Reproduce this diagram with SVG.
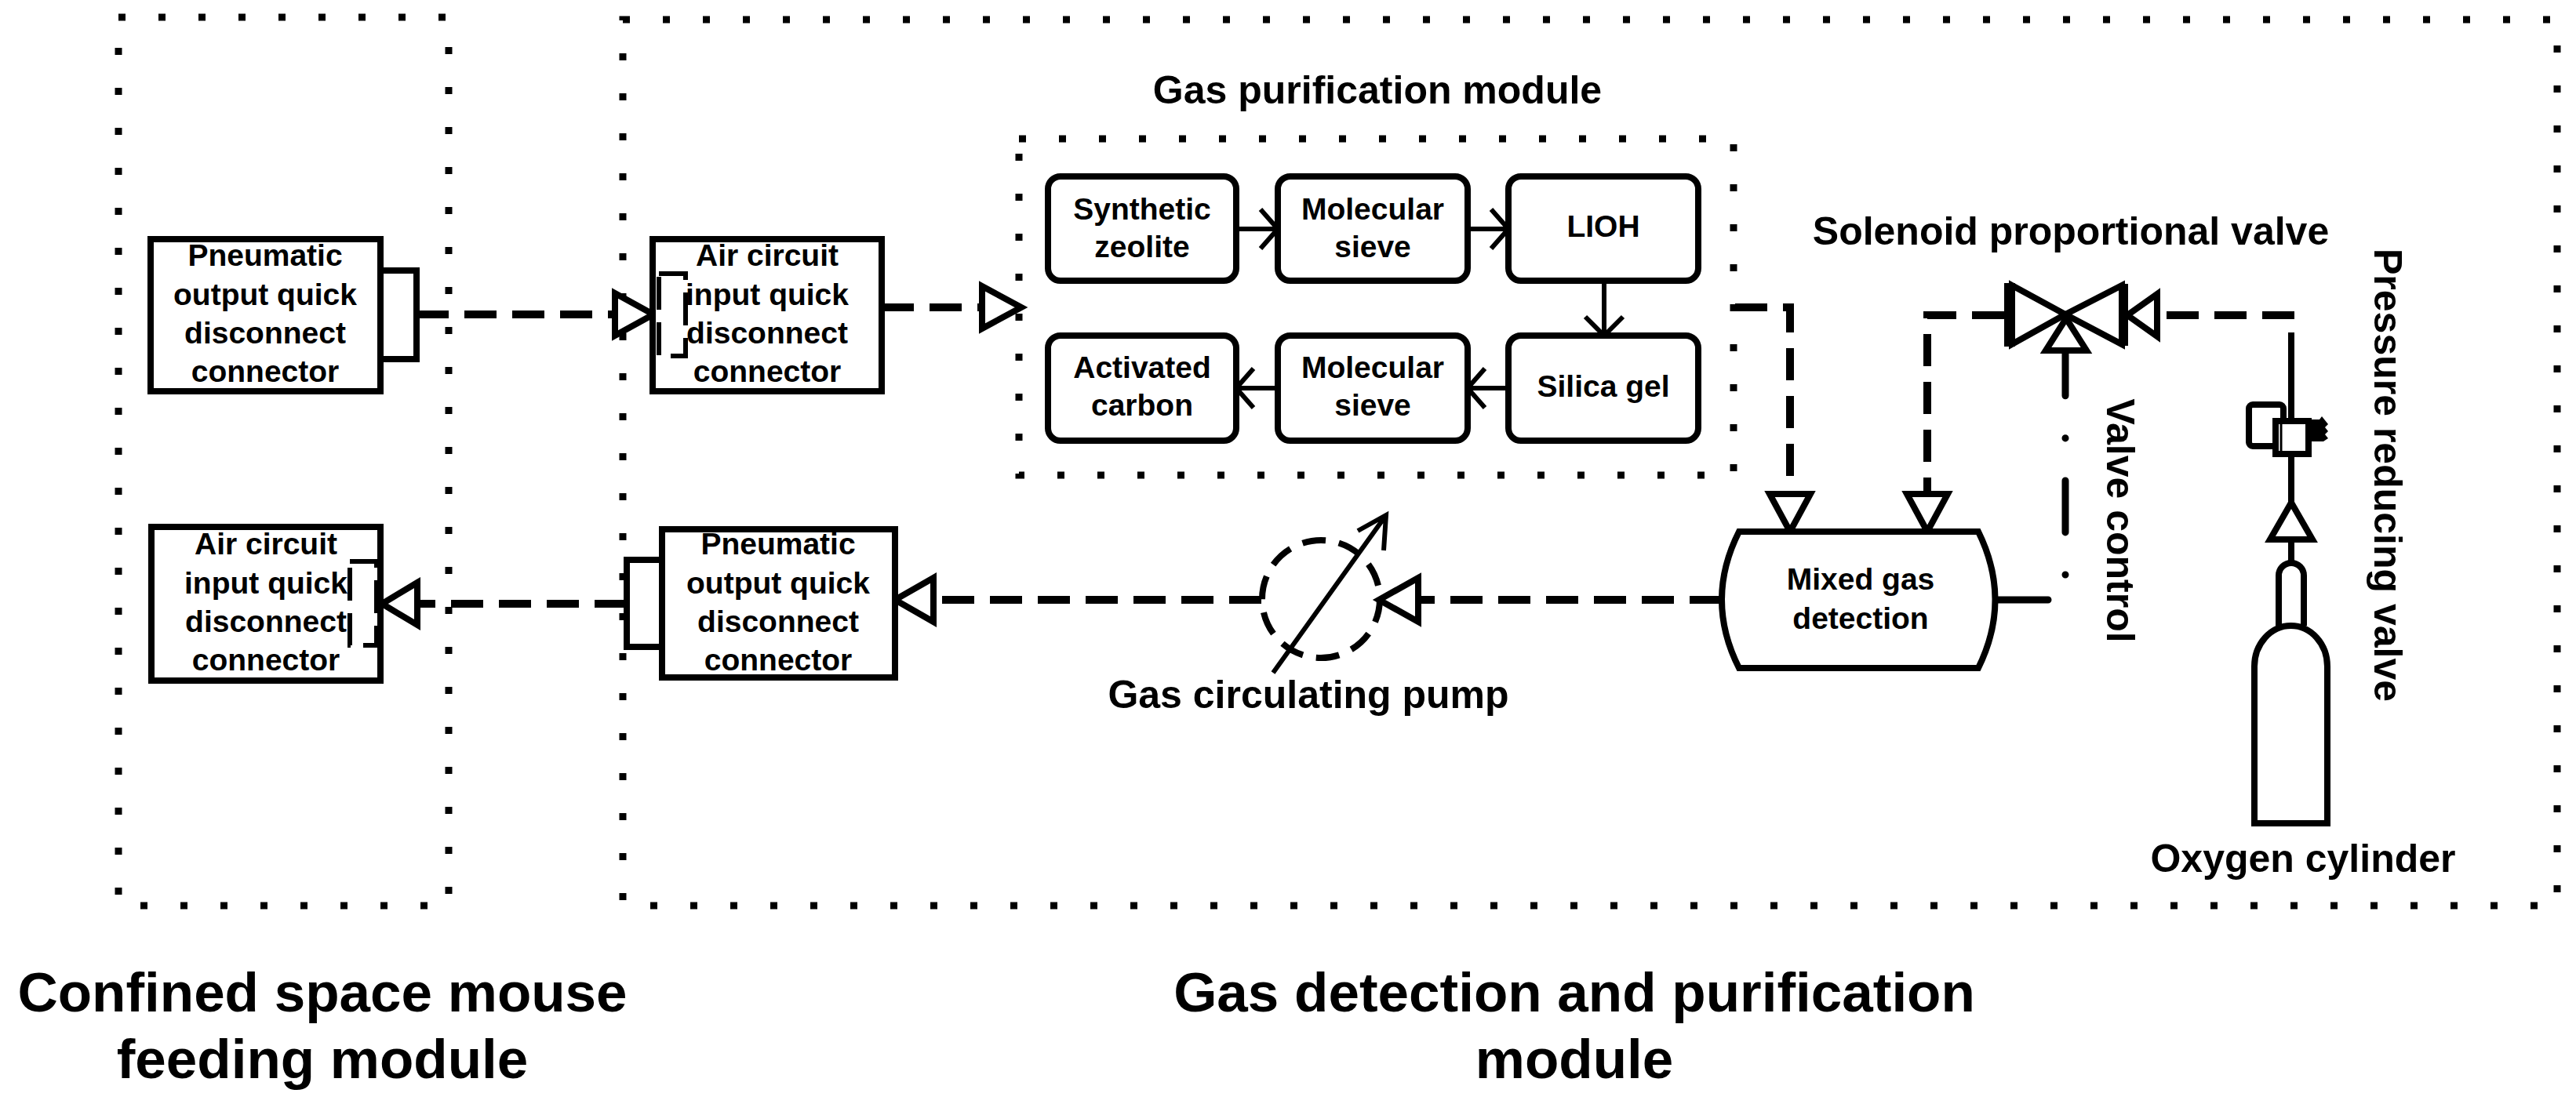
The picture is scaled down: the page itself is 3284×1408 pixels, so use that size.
<svg xmlns="http://www.w3.org/2000/svg" width="3284" height="1408" viewBox="0 0 3284 1408">
<style>
.dot{fill:none;stroke:#000;stroke-width:9;stroke-dasharray:9 42}
.box{fill:#fff;stroke:#000;stroke-width:8}
.ln{fill:none;stroke:#000;stroke-width:8}
.thin{fill:none;stroke:#000;stroke-width:6}
.dash{fill:none;stroke:#000;stroke-width:10;stroke-dasharray:41 20}
.sock{fill:none;stroke:#000;stroke-width:6;stroke-dasharray:42 16}
.tri{fill:#fff;stroke:#000;stroke-width:8;stroke-linejoin:miter}
.ctl{fill:none;stroke:#000;stroke-width:9;stroke-linecap:round;stroke-dasharray:66 54 0.1 54}
.t{font-family:"Liberation Sans",Arial,Helvetica,sans-serif;font-weight:bold;text-anchor:middle;fill:#000}
.bt{font-size:39px}
.lt{font-size:50px}
.ht{font-size:71px}
</style>
<rect width="3284" height="1408" fill="#fff"/>

<g id="frames">
<rect class="dot" x="151" y="22" width="421" height="1133"/>
<rect class="dot" x="794" y="25" width="2466" height="1130"/>
<rect class="dot" x="1299" y="177" width="911" height="429"/>
</g>

<g id="connectors">
<path class="dash" d="M531 401H784"/>
<polygon class="tri" points="784,374 833,401 784,428"/>
<path class="dash" d="M1124 392H1252"/>
<polygon class="tri" points="1252,365 1302,392 1252,419"/>
<path class="dash" d="M2212 392H2282V630"/>
<polygon class="tri" points="2256,630 2308,630 2282,678"/>
<path class="dash" d="M2555 402H2457V630"/>
<polygon class="tri" points="2431,630 2483,630 2457,678"/>
<path class="dash" d="M2925 402H2750"/>
<polygon class="tri" points="2750,375 2712,402 2750,429"/>
<path class="dash" d="M2195 765H1808"/>
<polygon class="tri" points="1808,737 1758,765 1808,793"/>
<path class="dash" d="M1608 765H1190"/>
<polygon class="tri" points="1190,737 1141,765 1190,793"/>
<path class="dash" d="M799 770H532"/>
<polygon class="tri" points="532,743 487,770 532,797"/>
<path class="ctl" d="M2545 765H2633V446"/>
<path class="ln" d="M2921 424V533M2921 583V641M2921 688V718"/>
<polygon class="tri" points="2894,688 2948,688 2921,641"/>
<path class="thin" d="M1576 292H1627M1607 267L1629 292L1607 317"/>
<path class="thin" d="M1871 292H1921M1901 267L1923 292L1901 317"/>
<path class="thin" d="M2045 358V426M2021 404L2045 428L2069 404"/>
<path class="thin" d="M1923 495H1873M1893 470L1871 495L1893 520"/>
<path class="thin" d="M1629 495H1578M1598 470L1576 495L1598 520"/>
</g>

<g id="pneumatic-out-1">
<rect class="box" x="485" y="345" width="46" height="113"/>
<rect class="box" x="192" y="305" width="293" height="194"/>
<text class="t bt" x="338" y="339">Pneumatic</text>
<text class="t bt" x="338" y="389">output quick</text>
<text class="t bt" x="338" y="438">disconnect</text>
<text class="t bt" x="338" y="487">connector</text>
</g>

<g id="air-in-1">
<rect class="box" x="832" y="305" width="292" height="194"/>
<rect class="sock" x="840" y="349" width="34" height="105"/>
<text class="t bt" x="978" y="339">Air circuit</text>
<text class="t bt" x="978" y="389">input quick</text>
<text class="t bt" x="978" y="438">disconnect</text>
<text class="t bt" x="978" y="487">connector</text>
</g>

<g id="air-in-2">
<rect class="box" x="193" y="672" width="292" height="196"/>
<text class="t bt" x="339" y="707">Air circuit</text>
<text class="t bt" x="339" y="757">input quick</text>
<text class="t bt" x="339" y="806">disconnect</text>
<text class="t bt" x="339" y="855">connector</text>
<rect class="sock" x="446" y="716" width="34" height="107"/>
</g>

<g id="pneumatic-out-2">
<rect class="box" x="799" y="714" width="45" height="111"/>
<rect class="box" x="844" y="675" width="297" height="189"/>
<text class="t bt" x="992" y="707">Pneumatic</text>
<text class="t bt" x="992" y="757">output quick</text>
<text class="t bt" x="992" y="806">disconnect</text>
<text class="t bt" x="992" y="855">connector</text>
</g>

<g id="purification">
<text class="t lt" x="1756" y="132">Gas purification module</text>
<g id="synthetic-zeolite">
<rect class="box" x="1336" y="225" width="240" height="133" rx="16"/>
<text class="t bt" x="1456" y="280">Synthetic</text>
<text class="t bt" x="1456" y="328">zeolite</text>
</g>
<g id="molecular-sieve-1">
<rect class="box" x="1629" y="225" width="242" height="133" rx="16"/>
<text class="t bt" x="1750" y="280">Molecular</text>
<text class="t bt" x="1750" y="328">sieve</text>
</g>
<g id="lioh">
<rect class="box" x="1923" y="225" width="242" height="133" rx="16"/>
<text class="t bt" x="2044" y="302">LIOH</text>
</g>
<g id="activated-carbon">
<rect class="box" x="1336" y="428" width="240" height="134" rx="16"/>
<text class="t bt" x="1456" y="482">Activated</text>
<text class="t bt" x="1456" y="530">carbon</text>
</g>
<g id="molecular-sieve-2">
<rect class="box" x="1629" y="428" width="242" height="134" rx="16"/>
<text class="t bt" x="1750" y="482">Molecular</text>
<text class="t bt" x="1750" y="530">sieve</text>
</g>
<g id="silica-gel">
<rect class="box" x="1923" y="428" width="242" height="134" rx="16"/>
<text class="t bt" x="2044" y="506">Silica gel</text>
</g>
</g>

<g id="mixed-gas-detection">
<path class="box" d="M2217 678H2522Q2565 765 2522 852H2217Q2173 765 2217 678Z"/>
<text class="t bt" x="2372" y="752">Mixed gas</text>
<text class="t bt" x="2372" y="802">detection</text>
</g>

<g id="gas-circulating-pump">
<circle cx="1684" cy="764" r="75" fill="none" stroke="#000" stroke-width="8" stroke-dasharray="30 17"/>
<path class="thin" d="M1623 858L1767 657M1731 677L1767 657L1764 702"/>
<text class="t lt" x="1668" y="903">Gas circulating pump</text>
</g>

<g id="solenoid-valve">
<text class="t lt" x="2640" y="312">Solenoid proportional valve</text>
<polygon class="tri" points="2565,364 2633,401 2565,439"/>
<polygon class="tri" points="2705,364 2633,401 2705,439"/>
<rect x="2555" y="361" width="14" height="81" fill="#000"/>
<rect x="2703" y="362" width="10" height="79" fill="#000"/>
<polygon class="tri" points="2608,447 2660,447 2634,406"/>
<text class="t lt" transform="translate(2686,664) rotate(90)">Valve control</text>
</g>

<g id="pressure-reducing-valve">
<rect class="box" x="2867" y="516" width="44" height="53" rx="5"/>
<rect class="box" x="2901" y="537" width="42" height="42"/>
<path d="M2908 541V575" stroke="#000" stroke-width="3"/>
<polygon points="2943,535 2957,535 2960,531 2964,536 2968,541 2964,545 2968,550 2964,554 2968,559 2962,563 2943,563" fill="#000"/>
<text class="t lt" transform="translate(3027,606) rotate(90)">Pressure reducing valve</text>
</g>

<g id="oxygen-cylinder">
<path class="box" d="M2905 798V734A16 16 0 0 1 2937 734V798"/>
<path class="box" stroke-width="9" d="M2874 1050V850A46.5 52 0 0 1 2967 850V1050Z"/>
<text class="t lt" x="2936" y="1112">Oxygen cylinder</text>
</g>

<g id="module-labels">
<text class="t ht" x="411" y="1290">Confined space mouse</text>
<text class="t ht" x="411" y="1375">feeding module</text>
<text class="t ht" x="2007" y="1290">Gas detection and purification</text>
<text class="t ht" x="2007" y="1375">module</text>
</g>
</svg>
